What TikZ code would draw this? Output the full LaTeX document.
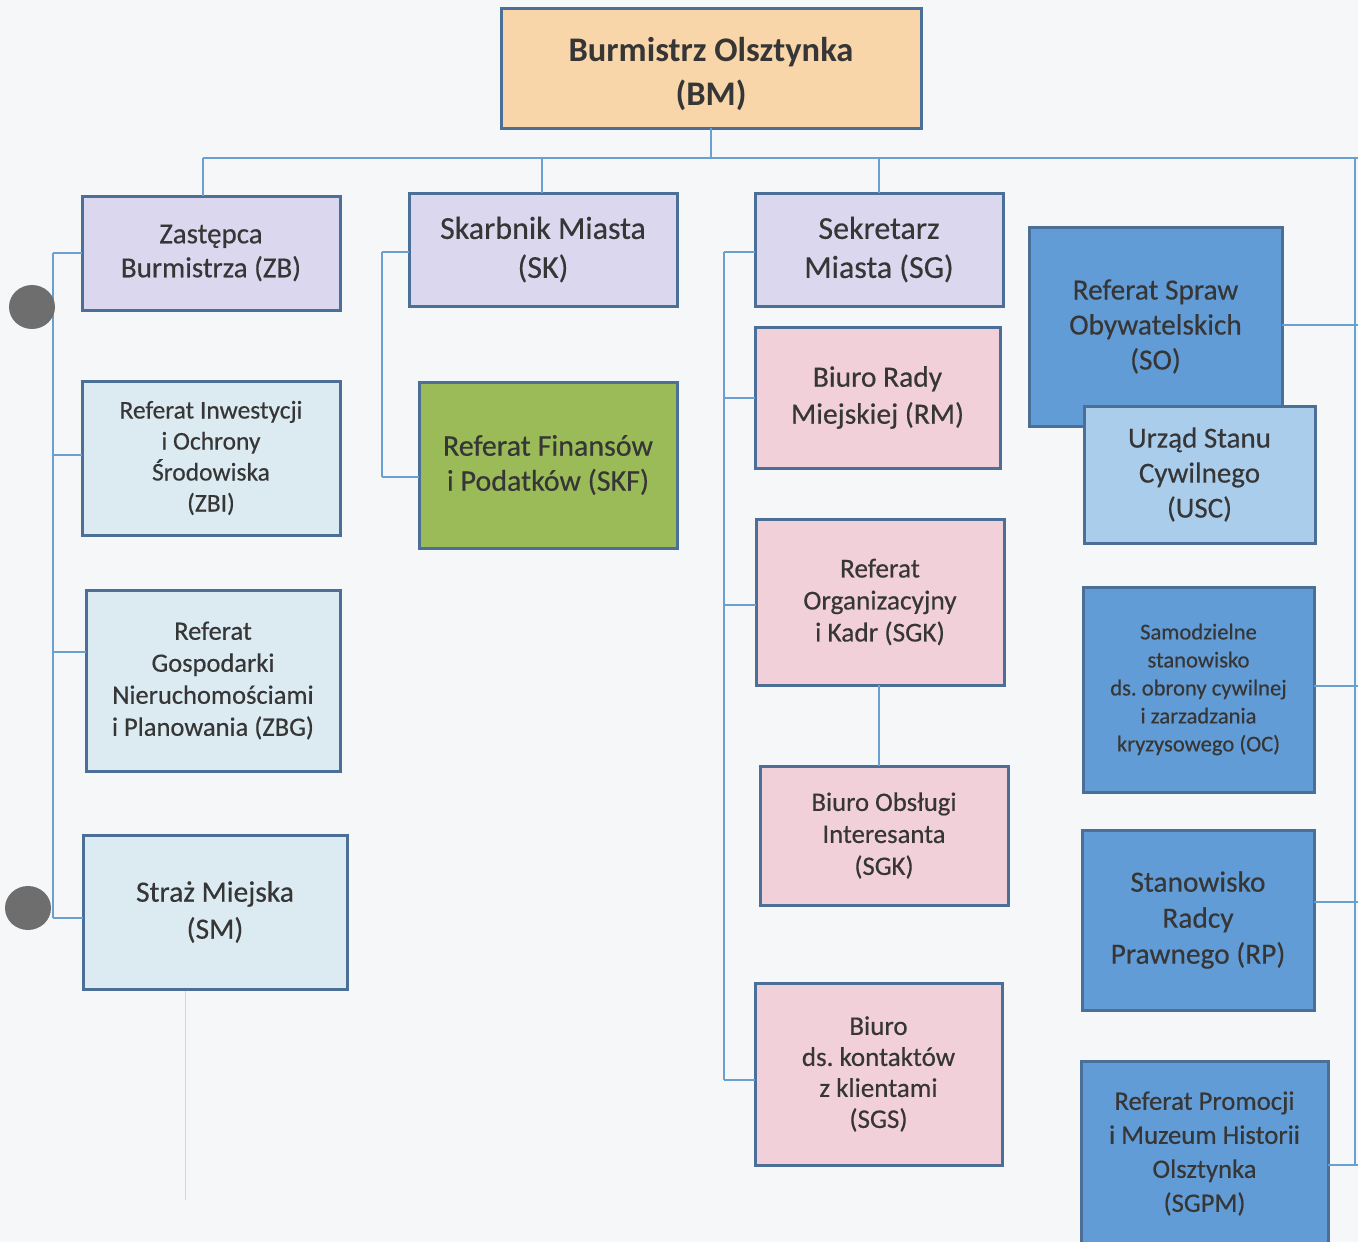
\documentclass[tikz,border=0pt]{standalone}
\usepackage{fontspec}
\setmainfont{Carlito}[FakeBold=0.4]
\newfontfamily\headf{Carlito}
\frenchspacing
\definecolor{bgc}{HTML}{F6F7F9}
\definecolor{bordc}{HTML}{4C6F98}
\definecolor{connc}{HTML}{6A9FD2}
\definecolor{txtc}{HTML}{363636}
\definecolor{peach}{HTML}{F9D6A9}
\definecolor{lav}{HTML}{DAD7EE}
\definecolor{lblue}{HTML}{DCEAF1}
\definecolor{olive}{HTML}{9BBB59}
\definecolor{pinkc}{HTML}{F2D0D9}
\definecolor{mblue}{HTML}{629CD6}
\definecolor{ublue}{HTML}{AACDEC}
\definecolor{holec}{HTML}{6E6E6E}
\tikzset{
  orgbox/.style={draw=bordc, line width=3pt, anchor=north west, align=center,
    inner sep=0pt, outer sep=0pt, text=txtc},
  conn/.style={draw=connc, line width=1.5pt},
}
\newcommand\fs[2]{\fontsize{#1}{#2}\selectfont}
\begin{document}
\begin{tikzpicture}[x=1pt,y=-1pt]
\useasboundingbox (0,0) rectangle (1358,1242);
\fill[bgc] (0,0) rectangle (1358,1242);
\begin{scope}
\clip (0,0) rectangle (1358,1242);
% faint scan line
\draw[draw={rgb,255:red,214;green,215;blue,220}, line width=1pt] (185,989) -- (185,1200);

% nodes
\node[orgbox, fill=peach, minimum width=420pt, minimum height=120pt, font=\headf\fs{34.5}{44}\bfseries] (bm) at (501,8) {\rule{0pt}{36pt}Burmistrz Olsztynka\\(BM)};
\node[orgbox, fill=lav, minimum width=258pt, minimum height=114pt, font=\fs{29}{34}] (zb) at (82,196) {Zastępca\\Burmistrza (ZB)};
\node[orgbox, fill=lav, minimum width=268pt, minimum height=113pt, font=\fs{32}{39}] (sk) at (409,193) {Skarbnik Miasta\\(SK)};
\node[orgbox, fill=lav, minimum width=248pt, minimum height=113pt, font=\fs{32}{39}] (sg) at (755,193) {Sekretarz\\Miasta (SG)};

\node[orgbox, fill=lblue, minimum width=258pt, minimum height=154pt, font=\fs{25.5}{31}] (zbi) at (82,381) {Referat Inwestycji\\i Ochrony\\Środowiska\\(ZBI)};
\node[orgbox, fill=lblue, minimum width=254pt, minimum height=181pt, font=\fs{26.5}{32}] (zbg) at (86,590) {Referat\\Gospodarki\\Nieruchomościami\\i Planowania (ZBG)};
\node[orgbox, fill=lblue, minimum width=264pt, minimum height=154pt, font=\fs{29.5}{37}] (sm) at (83,835) {Straż Miejska\\(SM)};

\node[orgbox, fill=olive, minimum width=258pt, minimum height=166pt, font=\fs{30}{35}] (skf) at (419,382) {Referat Finansów\\i Podatków (SKF)};

\node[orgbox, fill=pinkc, minimum width=245pt, minimum height=141pt, font=\fs{29.5}{37}] (rm) at (755,327) {Biuro Rady\\Miejskiej (RM)};
\node[orgbox, fill=pinkc, minimum width=248pt, minimum height=166pt, font=\fs{27.3}{32}] (sgk) at (756,519) {Referat\\Organizacyjny\\i Kadr (SGK)};
\node[orgbox, fill=pinkc, minimum width=248pt, minimum height=139pt, font=\fs{26.7}{32}] (boi) at (760,766) {Biuro Obsługi\\Interesanta\\(SGK)};
\node[orgbox, fill=pinkc, minimum width=247pt, minimum height=182pt, font=\fs{27}{31}] (sgs) at (755,983) {Biuro\\ds. kontaktów\\z klientami\\(SGS)};

\node[orgbox, fill=mblue, minimum width=253pt, minimum height=199pt, font=\fs{29.3}{35}] (so) at (1029,227) {Referat Spraw\\Obywatelskich\\(SO)};
\node[orgbox, fill=ublue, minimum width=231pt, minimum height=137pt, font=\fs{29}{35}] (usc) at (1084,406) {Urząd Stanu\\Cywilnego\\(USC)};
\node[orgbox, fill=mblue, minimum width=231pt, minimum height=205pt, font=\fs{22.6}{28}] (oc) at (1083,587) {Samodzielne\\stanowisko\\ds. obrony cywilnej\\i zarzadzania\\kryzysowego (OC)};
\node[orgbox, fill=mblue, minimum width=232pt, minimum height=180pt, font=\fs{29.4}{36}] (rp) at (1082,830) {Stanowisko\\Radcy\\Prawnego (RP)};
\node[orgbox, fill=mblue, minimum width=247pt, minimum height=185pt, font=\fs{26.7}{34}] (sgpm) at (1081,1061) {Referat Promocji\\i Muzeum Historii\\Olsztynka\\(SGPM)};

% coordinates
\coordinate (busL) at (203,158);
\coordinate (busK) at (542,158);
\coordinate (busG) at (879,158);
\coordinate (busR) at (1355,158);
\coordinate (busE) at (1358,158);
\coordinate (lsp1) at (53,253);
\coordinate (lsp2) at (53,455);
\coordinate (lsp3) at (53,652);
\coordinate (lsp4) at (53,918);
\coordinate (ksp1) at (382,252);
\coordinate (ksp2) at (382,477);
\coordinate (gsp1) at (724,252);
\coordinate (gsp2) at (724,398);
\coordinate (gsp3) at (724,605);
\coordinate (gsp4) at (724,1080);
\coordinate (rsp1) at (1355,325);
\coordinate (rsp2) at (1355,686);
\coordinate (rsp3) at (1355,902);
\coordinate (rsp4) at (1355,1165);

% connectors
\draw[conn] (bm.south) -- (bm.south |- busL);
\draw[conn] (busL) -- (busE);
\draw[conn] (busR) -- (rsp4);
\draw[conn] (busL) -- (busL |- zb.north);
\draw[conn] (busK) -- (busK |- sk.north);
\draw[conn] (busG) -- (busG |- sg.north);

\draw[conn] (lsp1) -- (lsp4);
\draw[conn] (lsp1) -- (lsp1 -| zb.west);
\draw[conn] (lsp2) -- (lsp2 -| zbi.west);
\draw[conn] (lsp3) -- (lsp3 -| zbg.west);
\draw[conn] (lsp4) -- (lsp4 -| sm.west);

\draw[conn] (ksp1) -- (ksp2);
\draw[conn] (ksp1) -- (ksp1 -| sk.west);
\draw[conn] (ksp2) -- (ksp2 -| skf.west);

\draw[conn] (gsp1) -- (gsp4);
\draw[conn] (gsp1) -- (gsp1 -| sg.west);
\draw[conn] (gsp2) -- (gsp2 -| rm.west);
\draw[conn] (gsp3) -- (gsp3 -| sgk.west);
\draw[conn] (gsp4) -- (gsp4 -| sgs.west);
\draw[conn] (sgk.south -| busG) -- (boi.north -| busG);

\draw[conn] (rsp1 -| so.east) -- (busE |- rsp1);
\draw[conn] (rsp2 -| oc.east) -- (busE |- rsp2);
\draw[conn] (rsp3 -| rp.east) -- (busE |- rsp3);
\draw[conn] (rsp4 -| sgpm.east) -- (busE |- rsp4);

% punch holes
\fill[holec] (32,307) ellipse [x radius=23, y radius=22];
\fill[holec] (28,908) ellipse [x radius=23, y radius=22];
\end{scope}
\end{tikzpicture}
\end{document}
